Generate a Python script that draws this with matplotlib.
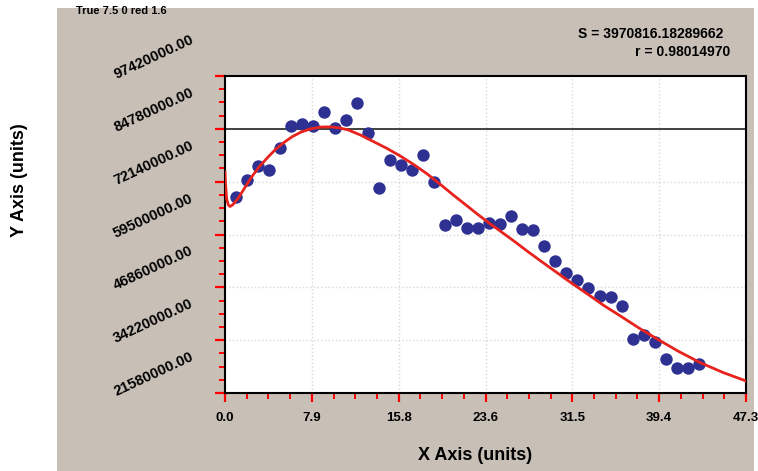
import numpy as np
import matplotlib
matplotlib.use('Agg')
import matplotlib.pyplot as plt
from matplotlib.patches import Rectangle
from matplotlib import transforms

# measured points (x, y)
x_data = np.arange(1, 44)
y_data = [68.45, 72.63, 75.82, 74.86, 80.21, 85.42, 85.83, 85.42, 88.85, 84.87,
          86.86, 91.01, 83.67, 70.61, 77.43, 76.06, 75.03, 78.46, 72.05, 61.66,
          63.03, 61.01, 61.01, 62.21, 62.07, 63.82, 60.70, 60.46, 56.86, 53.26,
          50.31, 48.63, 46.71, 44.86, 44.45, 42.46, 34.61, 35.50, 33.89, 29.67,
          27.65, 27.65, 28.47]
y_data = np.array(y_data) * 1e6

# fitted curve
curve_x = [0.0, 0.05, 0.15, 0.3, 0.45, 0.7, 1.2, 1.8, 2.4, 3.1, 3.9, 4.6, 5.4,
           6.1, 6.9, 7.8, 8.7, 9.6, 10.4, 11.2, 12.3, 13.5, 14.7, 15.9, 17.1,
           18.3, 19.5, 20.7, 21.9, 23.0, 24.0, 25.0, 26.3, 27.5, 28.8, 30.1,
           31.5, 33.0, 34.4, 35.9, 37.6, 39.3, 41.2, 43.1, 45.2, 47.3]
curve_y = [74.45, 71.5, 68.0, 66.6, 66.2, 66.6, 68.2, 70.7, 73.2, 75.7, 78.0,
           79.9, 81.6, 82.9, 84.0, 84.8, 85.2, 85.25, 85.0, 84.5, 83.3, 81.7,
           80.1, 78.3, 76.3, 74.1, 71.6, 69.0, 66.5, 64.2, 62.2, 60.3, 57.8,
           55.4, 52.9, 50.45, 47.8, 45.1, 42.5, 40.0, 37.1, 34.4, 31.5, 28.9,
           26.5, 24.46]
curve_y = np.array(curve_y) * 1e6

x_ticks = np.linspace(0, 47.3, 7)
x_tick_labels = ['0.0', '7.9', '15.8', '23.6', '31.5', '39.4', '47.3']
y_ticks = [21580000, 34220000, 46860000, 59500000, 72140000, 84780000, 97420000]
ref_line = 84780000

stat_s = 'S = 3970816.18289662'
stat_r = 'r = 0.98014970'

plt.rcParams['font.family'] = ['Liberation Sans', 'DejaVu Sans']
plt.rcParams['font.weight'] = 'bold'

W, H = 758, 471
tan = '#C8C0B7'
dot_color = '#2E3192'
line_color = '#E8231E'
tick_color = 'red'

fig = plt.figure(figsize=(W / 100, H / 100), dpi=100)
fig.patch.set_facecolor('white')

# tan panel behind everything, on its own background axes
bg = fig.add_axes([0, 0, 1, 1], zorder=-1)
bg.set_xlim(0, W)
bg.set_ylim(H, 0)
bg.axis('off')
bg.add_patch(Rectangle((57, 8), 754 - 57, H - 8, facecolor=tan, edgecolor='none'))

ax = fig.add_axes([225 / W, (H - 393) / H, 521 / W, 317 / H], zorder=1)
ax.set_facecolor('white')
ax.set_xlim(0, 47.3)
ax.set_ylim(y_ticks[0], y_ticks[-1])

ax.set_xticks(x_ticks)
ax.set_xticklabels(x_tick_labels, fontsize=9.5, fontweight='bold')
ax.set_xticks(np.linspace(0, 47.3, 25), minor=True)
ax.set_yticks(y_ticks)
ax.set_yticklabels([])
ax.set_yticks(np.linspace(y_ticks[0], y_ticks[-1], 25), minor=True)

ax.tick_params(axis='both', which='both', direction='out', color=tick_color)
ax.tick_params(axis='x', which='major', length=6.5, width=1.6, pad=7.5)
ax.tick_params(axis='x', which='minor', length=4.5, width=1.4)
ax.tick_params(axis='y', which='major', length=7.5, width=1.6)
ax.tick_params(axis='y', which='minor', length=4.5, width=1.4)

for s in ax.spines.values():
    s.set_linewidth(1.5)
    s.set_color('black')

ax.grid(True, which='major', color='#D8D8D8', linestyle=':', linewidth=1)
ax.axhline(ref_line, color='#222222', linewidth=1.2, zorder=2)

# rotated y labels
trans = transforms.blended_transform_factory(ax.transAxes, ax.transData)
trans = transforms.offset_copy(trans, fig=fig, x=0, y=-3, units='dots')
for v in y_ticks:
    ax.text((116 - 225) / 521, v, '%.2f' % v, transform=trans, rotation=25,
            rotation_mode='anchor', ha='left', va='baseline',
            fontsize=10.5, fontweight='bold', clip_on=False)

ax.scatter(x_data, y_data, s=80, color=dot_color, zorder=3, linewidths=0)
ax.plot(curve_x, curve_y, color=line_color, linewidth=2, zorder=4)

t = ax.yaxis.get_major_ticks()[2]
info = '%s %s %s %s %s' % (t.tick1line.get_visible(), t.tick1line.get_markersize(),
                           t.tick1line.get_marker(), t.tick1line.get_color(),
                           t.tick1line.get_markeredgewidth())
fig.text(0.1, 0.97, info, fontsize=8)

fig.text(723 / W, 1 - 34 / H, stat_s, ha='right', va='center', fontsize=10, fontweight='bold')
fig.text(730 / W, 1 - 52 / H, stat_r, ha='right', va='center', fontsize=10, fontweight='bold')

fig.text(20 / W, 1 - 180 / H, 'Y Axis (units)', rotation=90, ha='center', va='center',
         fontsize=13, fontweight='bold')
fig.text(475 / W, 1 - 456 / H, 'X Axis (units)', ha='center', va='center',
         fontsize=13, fontweight='bold')

fig.savefig('out.png', dpi=100)
